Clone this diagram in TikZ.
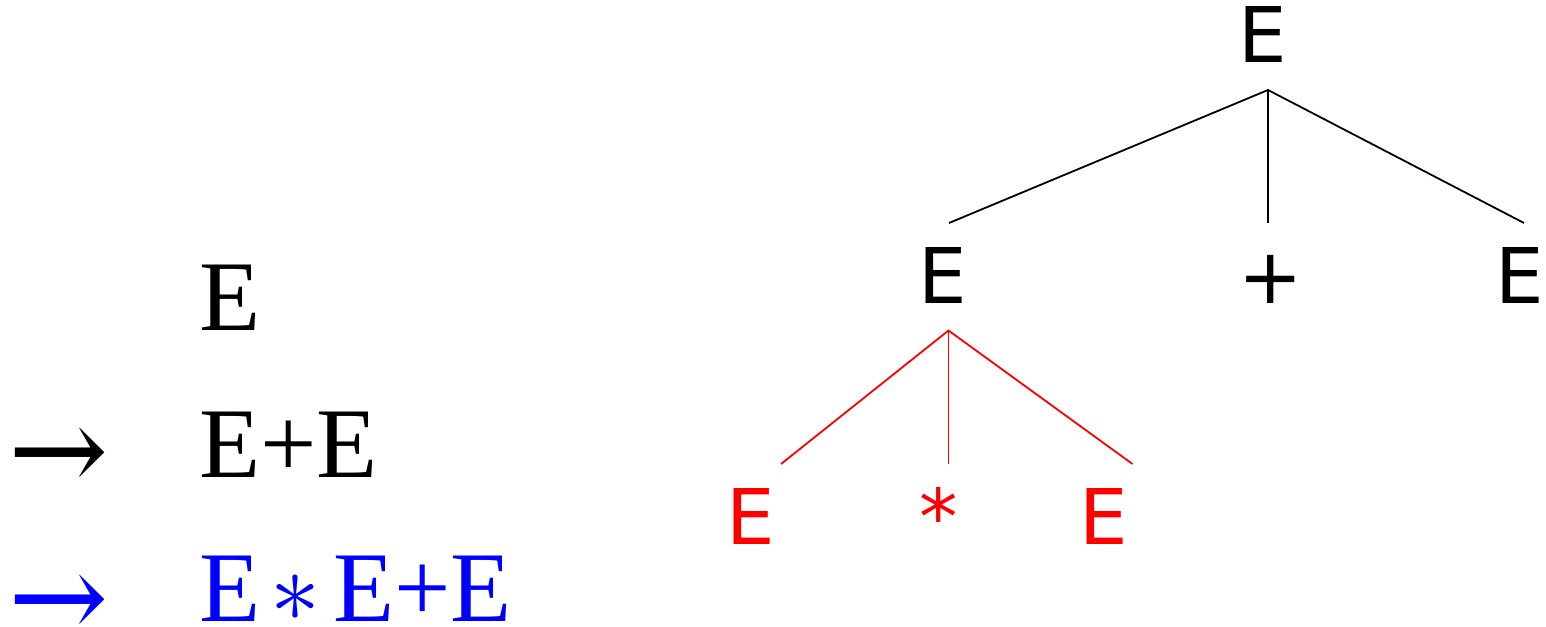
\documentclass[tikz,border=0pt]{standalone}
\usepackage{fontspec}
\newfontfamily\serifface{Liberation Serif}
\newfontfamily\sansface{DejaVu Sans}
\newfontfamily\arrowface{DejaVu Serif}
\newcommand{\bigast}{\scalebox{10}{\fontsize{10}{12}\selectfont$\ast$}}
\begin{document}
\begin{tikzpicture}[x=1pt,y=-1pt,
  deriv/.style={anchor=base west,inner sep=0pt,outer sep=0pt,font=\serifface\fontsize{100}{120}\selectfont},
  arr/.style={anchor=base west,inner sep=0pt,outer sep=0pt,font=\arrowface\fontsize{120}{140}\selectfont},
  tnode/.style={anchor=base west,inner sep=0pt,outer sep=0pt,font=\sansface\fontsize{76.8}{90}\selectfont},
  tline/.style={line width=1.8pt,black},
  rline/.style={line width=1.8pt,red}]
\useasboundingbox (0,0) rectangle (1546,626);
% derivation
\node[deriv] (d0) at (199,330) {E};
\node[arr] (a1) at (9,491.6) {→};
\node[deriv] (d1) at (199,477) {E+E};
\node[arr,text=blue] (a2) at (9,638.6) {→};
\node[deriv,text=blue] (d2) at (199,621) {E\hspace{10pt}\bigast\hspace{13pt}E+E};
% tree
\node[tnode] (root) at (1238.5,63) {E};
\node[tnode] (l) at (918.5,303) {E};
\node[tnode] (p) at (1238.3,303) {+};
\node[tnode] (r) at (1495.5,303) {E};
\node[tnode,text=red] (ll) at (726.5,544) {E};
\node[tnode,text=red] (lm) at (919,544) {*};
\node[tnode,text=red] (lr) at (1079.5,544) {E};
% connector points
\coordinate (rootb) at (1268,90);
\coordinate (lt) at (949,223);
\coordinate (pt) at (1268,223);
\coordinate (rt) at (1524,223);
\coordinate (lb) at (948.5,330.5);
\coordinate (llt) at (781,464);
\coordinate (lmt) at (948.5,464);
\coordinate (lrt) at (1132.5,464);
\draw[tline] (lt) -- (rootb) -- (rt);
\draw[tline] (rootb) -- (pt);
\draw[rline] (llt) -- (lb) -- (lrt);
\draw[rline] (lb) -- (lmt);
\end{tikzpicture}
\end{document}
